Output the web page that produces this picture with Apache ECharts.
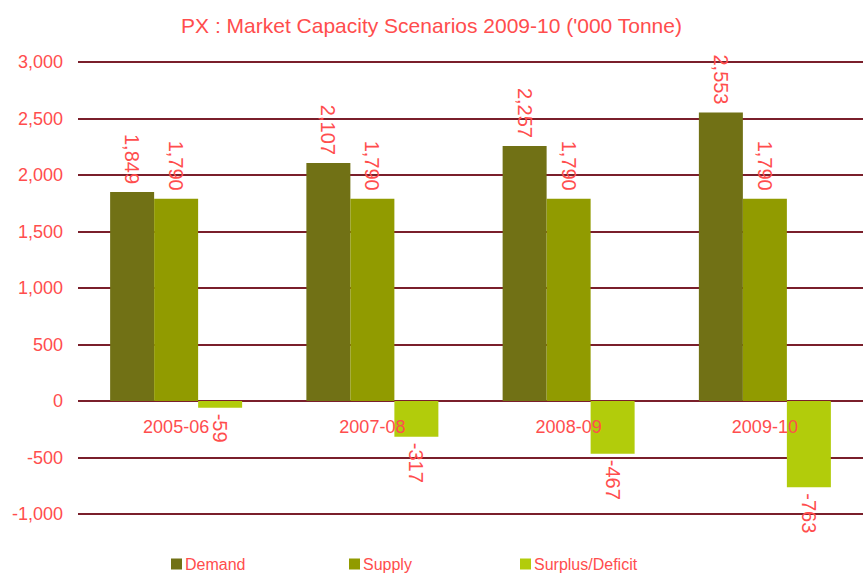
<!DOCTYPE html>
<html>
<head>
<meta charset="utf-8">
<script src="https://cdn.jsdelivr.net/npm/echarts@6/dist/echarts.min.js"></script>
<style>
  html, body { margin: 0; padding: 0; background: #fff; }
  #chart { width: 863px; height: 573px; }
</style>
</head>
<body>
<div id="chart"></div>
<script>
const categories = ["2005-06", "2007-08", "2008-09", "2009-10"];
const demand = [1849, 2107, 2257, 2553];
const supply = [1790, 1790, 1790, 1790];
const surplus = [-59, -317, -467, -763];
const yMin = -1000;
const yMax = 3000;
const yStep = 500;

const red = "#ff4d4d";
const font = "Liberation Sans, Arial, sans-serif";
const gridTop = 62;
const gridBottom = 59;
const plotHeight = 573 - gridTop - gridBottom;

function fmt(n) {
  return Number(n).toLocaleString("en-US");
}

// labels rotated to read top-down, ending just above the bar
const upLabel = {
  show: true,
  position: "top",
  distance: 8,
  rotate: -90,
  align: "right",
  verticalAlign: "middle",
  color: red,
  fontSize: 20,
  fontFamily: font,
  formatter: (p) => fmt(p.value),
};

const chart = echarts.init(document.getElementById("chart"), null, { renderer: "svg" });

chart.setOption({
  animation: false,
  textStyle: { fontFamily: font },
  title: {
    text: "PX : Market Capacity Scenarios 2009-10 ('000 Tonne)",
    left: "center",
    top: 10,
    textStyle: { color: red, fontSize: 21, fontWeight: "normal", fontFamily: font },
  },
  legend: [
    { data: ["Demand"], left: 171, top: 556 },
    { data: ["Supply"], left: 349, top: 556 },
    { data: ["Surplus/Deficit"], left: 520, top: 556 },
  ].map((l) => Object.assign(l, {
    icon: "rect",
    itemWidth: 11,
    itemHeight: 11,
    itemGap: 5,
    padding: 0,
    textStyle: { color: red, fontSize: 16, fontFamily: font, padding: [0, 0, 0, -2] },
  })),
  grid: { left: 78, right: 0, top: gridTop, bottom: gridBottom },
  xAxis: {
    type: "category",
    data: categories,
    z: 5,
    // category labels sit under the zero line
    offset: -(0 - yMin) / (yMax - yMin) * plotHeight,
    axisLine: { show: false },
    axisTick: { show: false },
    axisLabel: { color: red, fontSize: 18, margin: 17, fontFamily: font },
  },
  yAxis: {
    type: "value",
    min: yMin,
    max: yMax,
    interval: yStep,
    axisLine: { show: false },
    axisTick: { show: false },
    axisLabel: { color: red, fontSize: 18, margin: 15, fontFamily: font, formatter: fmt },
    splitLine: { lineStyle: { color: "#7a1f2b", width: 2 } },
  },
  series: [
    {
      name: "Demand",
      type: "bar",
      data: demand,
      barWidth: 44,
      barGap: "0%",
      itemStyle: { color: "#717115" },
      label: upLabel,
    },
    {
      name: "Supply",
      type: "bar",
      data: supply,
      barWidth: 44,
      barGap: "0%",
      itemStyle: { color: "#919b00" },
      label: upLabel,
    },
    {
      name: "Surplus/Deficit",
      type: "bar",
      data: surplus,
      barWidth: 44,
      barGap: "0%",
      itemStyle: { color: "#b2cc0b" },
      label: Object.assign({}, upLabel, { position: "bottom", align: "left", distance: 6 }),
    },
  ],
});
</script>
</body>
</html>
